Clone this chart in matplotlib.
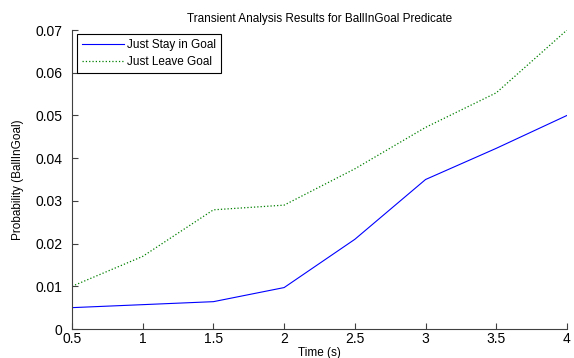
import matplotlib.pyplot as plt

time_s = [0.5, 1.0, 1.5, 2.0, 2.5, 3.0, 3.5, 4.0]
stay_in_goal = [0.0050, 0.0057, 0.0064, 0.0097, 0.0210, 0.0350, 0.0423, 0.0500]
leave_goal = [0.0100, 0.0170, 0.0279, 0.0290, 0.0375, 0.0472, 0.0553, 0.0700]

plt.rcParams['font.family'] = ['Liberation Sans', 'DejaVu Sans']
plt.rcParams['font.size'] = 8

fig = plt.figure(figsize=(5.74, 3.58), dpi=100)
ax = fig.add_axes([0.1254, 0.081, 0.8624, 0.8352])

ax.plot(time_s, stay_in_goal, '-', color='blue', lw=0.8, label='Just Stay in Goal')
ax.plot(time_s, leave_goal, ':', color=(0, 0.5, 0), lw=0.9, label='Just Leave Goal')

ax.set_xlim(0.5, 4)
ax.set_ylim(0, 0.07)
ax.set_xticks([0.5, 1, 1.5, 2, 2.5, 3, 3.5, 4])
ax.set_xticklabels(['0.5', '1', '1.5', '2', '2.5', '3', '3.5', '4'])
ax.set_yticks([0, 0.01, 0.02, 0.03, 0.04, 0.05, 0.06, 0.07])
ax.set_yticklabels(['0', '0.01', '0.02', '0.03', '0.04', '0.05', '0.06', '0.07'])

for side in ['top', 'right']:
    ax.spines[side].set_visible(False)
for side in ['left', 'bottom']:
    ax.spines[side].set_color('#404040')
    ax.spines[side].set_linewidth(0.8)
ax.tick_params(direction='in', length=4, width=0.8, color='#404040', labelsize=10)
ax.tick_params(axis='y', pad=7)
ax.tick_params(axis='x', pad=2)

ax.set_title('Transient Analysis Results for BallInGoal Predicate', fontsize=8.5, pad=6)
ax.set_xlabel('Time (s)', fontsize=8.5, labelpad=1)
ax.set_ylabel('Probability (BallInGoal)', fontsize=8.5, labelpad=8)

leg = ax.legend(loc='upper left', fancybox=False, edgecolor='black', framealpha=1,
                fontsize=8.5, bbox_to_anchor=(0.01, 0.985), borderaxespad=0,
                handlelength=3.6, handletextpad=0.25, labelspacing=0.4, borderpad=0.4)
leg.get_frame().set_linewidth(0.8)

fig.savefig('out.png', dpi=100)
